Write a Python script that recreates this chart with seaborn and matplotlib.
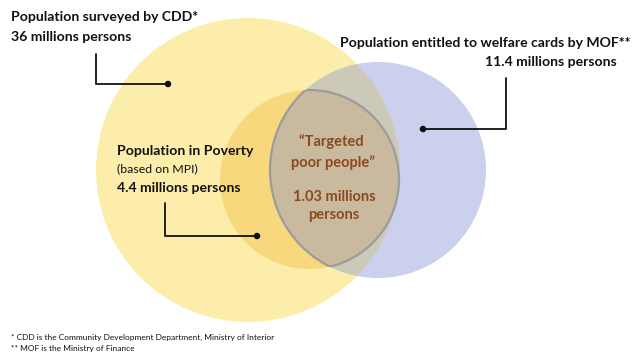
import matplotlib
matplotlib.use("Agg")
import matplotlib.pyplot as plt
from matplotlib.patches import Circle
import seaborn as sns
import pandas as pd

# ---- data ----
groups = ["Population surveyed by CDD*",
          "Population entitled to welfare cards by MOF**",
          "Population in Poverty",
          "Targeted poor people"]
values_millions = [36, 11.4, 4.4, 1.03]
value_labels = ["36 millions persons", "11.4 millions persons",
                "4.4 millions persons", "1.03 millions\npersons"]
footnotes = ["* CDD is the Community Development Department, Ministry of Interior",
             "** MOF is the Ministry of Finance"]

sns.set_theme(style="white")
plt.rcParams['font.family'] = ['Lato', 'DejaVu Sans']

fig = plt.figure(figsize=(6.34, 3.54), dpi=100)
ax = fig.add_axes([0, 0, 1, 1])

YELLOW = "#fcedaa"
BLUE = "#cbd0ec"
GRAY = "#cdc9b8"
ORANGE = "#f8d87c"
LENS = "#c9b99e"
EDGE = "#9c9c9c"
BROWN = "#8a4a1f"
INK = "#111111"

big = (248, 170, 152)
mof = (378, 170, 108)
pov = (309.5, 179.5, 89.5)

def circ(c, **kw):
    return Circle((c[0], c[1]), c[2], transform=ax.transData, **kw)

ax.add_patch(circ(big, facecolor=YELLOW, edgecolor="none", zorder=1))
ax.add_patch(circ(mof, facecolor=BLUE, edgecolor="none", zorder=1.1))
p = circ(mof, facecolor=GRAY, edgecolor="none", zorder=1.2)
ax.add_patch(p); p.set_clip_path(circ(big))
ax.add_patch(circ(pov, facecolor=ORANGE, edgecolor="none", zorder=1.3))
p = circ(pov, facecolor=LENS, edgecolor=EDGE, linewidth=1.6, zorder=1.4)
ax.add_patch(p); p.set_clip_path(circ(mof))
p = circ(mof, facecolor="none", edgecolor=EDGE, linewidth=1.6, zorder=1.5)
ax.add_patch(p); p.set_clip_path(circ(pov))

# connectors
ax.plot([96, 96, 168], [54, 84, 84], color=INK, lw=1.3, zorder=3)
ax.plot([506, 506, 423], [78, 129, 129], color=INK, lw=1.3, zorder=3)
ax.plot([165, 165, 257], [203, 236, 236], color=INK, lw=1.3, zorder=3)
dots = pd.DataFrame({"x": [168, 423, 257], "y": [84, 129, 236]})
sns.scatterplot(data=dots, x="x", y="y", ax=ax, color=INK, s=22,
                edgecolor="none", zorder=4, legend=False)
ax.set_xlim(0, 634)
ax.set_ylim(354, 0)
ax.axis("off")

BIG = 10.1
ax.text(11, 17, groups[0], fontsize=BIG, fontweight="bold", va="center", ha="left", color=INK)
ax.text(11, 37, value_labels[0], fontsize=BIG, fontweight="bold", va="center", ha="left", color=INK)
ax.text(631, 43, groups[1], fontsize=BIG, fontweight="bold", va="center", ha="right", color=INK)
ax.text(617, 62, value_labels[1], fontsize=BIG, fontweight="bold", va="center", ha="right", color=INK)
ax.text(117, 151, groups[2], fontsize=BIG, fontweight="bold", va="center", ha="left", zorder=5, color=INK)
ax.text(117, 169, "(based on MPI)", fontsize=8.9, va="center", ha="left", zorder=5, color=INK)
ax.text(117, 188, value_labels[2], fontsize=BIG, fontweight="bold", va="center", ha="left", zorder=5, color=INK)
ax.text(333, 152, "\u201c" + groups[3].replace("poor", "\npoor") + "\u201d", fontsize=10.5,
        fontweight="bold", va="center", ha="center", color=BROWN, linespacing=1.45, zorder=5)
ax.text(334, 206, value_labels[3], fontsize=10.5, fontweight="bold", va="center", ha="center",
        color=BROWN, linespacing=1.45, zorder=5)
ax.text(11, 337, footnotes[0], fontsize=6, va="center", ha="left", color=INK)
ax.text(11, 349, footnotes[1], fontsize=6, va="center", ha="left", color=INK)

fig.savefig("out.png", dpi=100)
